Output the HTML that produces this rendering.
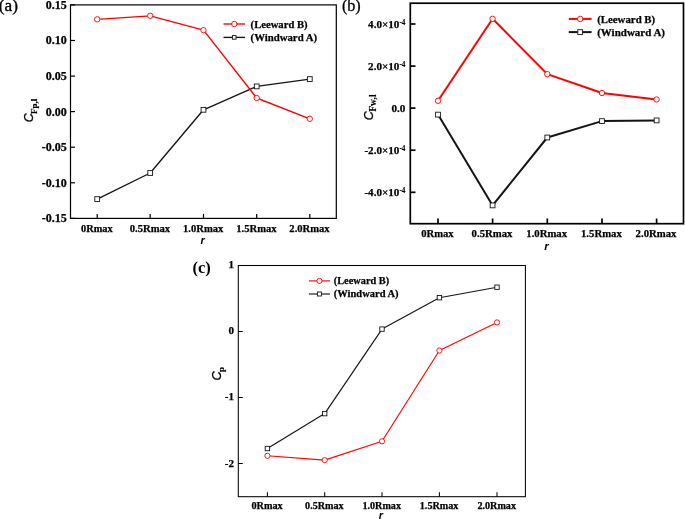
<!DOCTYPE html><html><head><meta charset="utf-8"><title>chart</title><style>html,body{margin:0;padding:0;background:#fff}svg{display:block;filter:blur(.35px)}text{font-family:"Liberation Serif",serif;fill:#000}.s{stroke:#000;stroke-width:.25px}</style></head><body>
<svg width="685" height="519" viewBox="0 0 685 519">
<rect width="685" height="519" fill="#fff"/>
<polyline points="97.2,199.1 150.2,173.0 203.5,109.8 256.7,86.4 309.8,79.1" fill="none" stroke="#141414" stroke-width="1.35" stroke-linejoin="round"/>
<polyline points="97.2,19.3 150.2,15.8 203.5,30.2 256.7,98.0 309.8,118.8" fill="none" stroke="#ff0000" stroke-width="1.35" stroke-linejoin="round"/>
<rect x="94.8" y="196.7" width="4.8" height="4.8" fill="#fff" stroke="#141414" stroke-width="0.9"/>
<rect x="147.8" y="170.6" width="4.8" height="4.8" fill="#fff" stroke="#141414" stroke-width="0.9"/>
<rect x="201.1" y="107.4" width="4.8" height="4.8" fill="#fff" stroke="#141414" stroke-width="0.9"/>
<rect x="254.3" y="84.0" width="4.8" height="4.8" fill="#fff" stroke="#141414" stroke-width="0.9"/>
<rect x="307.4" y="76.7" width="4.8" height="4.8" fill="#fff" stroke="#141414" stroke-width="0.9"/>
<circle cx="97.2" cy="19.3" r="2.7" fill="#fff" stroke="#ff0000" stroke-width="0.9"/>
<circle cx="150.2" cy="15.8" r="2.7" fill="#fff" stroke="#ff0000" stroke-width="0.9"/>
<circle cx="203.5" cy="30.2" r="2.7" fill="#fff" stroke="#ff0000" stroke-width="0.9"/>
<circle cx="256.7" cy="98.0" r="2.7" fill="#fff" stroke="#ff0000" stroke-width="0.9"/>
<circle cx="309.8" cy="118.8" r="2.7" fill="#fff" stroke="#ff0000" stroke-width="0.9"/>
<rect x="70.5" y="4.9" width="265.8" height="213.5" fill="none" stroke="#000" stroke-width="1.2"/>
<line x1="97.2" y1="218.4" x2="97.2" y2="213.9" stroke="#000" stroke-width="1.2"/>
<line x1="150.2" y1="218.4" x2="150.2" y2="213.9" stroke="#000" stroke-width="1.2"/>
<line x1="203.5" y1="218.4" x2="203.5" y2="213.9" stroke="#000" stroke-width="1.2"/>
<line x1="256.7" y1="218.4" x2="256.7" y2="213.9" stroke="#000" stroke-width="1.2"/>
<line x1="309.8" y1="218.4" x2="309.8" y2="213.9" stroke="#000" stroke-width="1.2"/>
<line x1="70.5" y1="4.9" x2="75.0" y2="4.9" stroke="#000" stroke-width="1.2"/>
<line x1="70.5" y1="40.5" x2="75.0" y2="40.5" stroke="#000" stroke-width="1.2"/>
<line x1="70.5" y1="76.1" x2="75.0" y2="76.1" stroke="#000" stroke-width="1.2"/>
<line x1="70.5" y1="111.6" x2="75.0" y2="111.6" stroke="#000" stroke-width="1.2"/>
<line x1="70.5" y1="147.2" x2="75.0" y2="147.2" stroke="#000" stroke-width="1.2"/>
<line x1="70.5" y1="182.8" x2="75.0" y2="182.8" stroke="#000" stroke-width="1.2"/>
<line x1="70.5" y1="218.4" x2="75.0" y2="218.4" stroke="#000" stroke-width="1.2"/>
<text x="66.8" y="9.3" class="s" text-anchor="end" style="font-family:'Liberation Serif',serif;font-weight:bold;font-size:12px">0.15</text>
<text x="66.8" y="44.4" class="s" text-anchor="end" style="font-family:'Liberation Serif',serif;font-weight:bold;font-size:12px">0.10</text>
<text x="66.8" y="80.0" class="s" text-anchor="end" style="font-family:'Liberation Serif',serif;font-weight:bold;font-size:12px">0.05</text>
<text x="66.8" y="115.5" class="s" text-anchor="end" style="font-family:'Liberation Serif',serif;font-weight:bold;font-size:12px">0.00</text>
<text x="66.8" y="151.1" class="s" text-anchor="end" style="font-family:'Liberation Serif',serif;font-weight:bold;font-size:12px">-0.05</text>
<text x="66.8" y="186.7" class="s" text-anchor="end" style="font-family:'Liberation Serif',serif;font-weight:bold;font-size:12px">-0.10</text>
<text x="66.8" y="222.3" class="s" text-anchor="end" style="font-family:'Liberation Serif',serif;font-weight:bold;font-size:12px">-0.15</text>
<text x="96.9" y="231.7" class="s" text-anchor="middle" style="font-family:'Liberation Serif',serif;font-weight:bold;font-size:10.7px" textLength="31.6" lengthAdjust="spacingAndGlyphs">0Rmax</text>
<text x="149.9" y="231.7" class="s" text-anchor="middle" style="font-family:'Liberation Serif',serif;font-weight:bold;font-size:10.7px" textLength="40.3" lengthAdjust="spacingAndGlyphs">0.5Rmax</text>
<text x="203.2" y="231.7" class="s" text-anchor="middle" style="font-family:'Liberation Serif',serif;font-weight:bold;font-size:10.7px" textLength="40.3" lengthAdjust="spacingAndGlyphs">1.0Rmax</text>
<text x="256.4" y="231.7" class="s" text-anchor="middle" style="font-family:'Liberation Serif',serif;font-weight:bold;font-size:10.7px" textLength="40.3" lengthAdjust="spacingAndGlyphs">1.5Rmax</text>
<text x="309.5" y="231.7" class="s" text-anchor="middle" style="font-family:'Liberation Serif',serif;font-weight:bold;font-size:10.7px" textLength="40.3" lengthAdjust="spacingAndGlyphs">2.0Rmax</text>
<line x1="223.5" y1="24.0" x2="245" y2="24.0" stroke="#ff0000" stroke-width="1.35"/>
<circle cx="234.25" cy="24.0" r="2.7" fill="#fff" stroke="#ff0000" stroke-width="0.9"/>
<line x1="223.5" y1="37.4" x2="245" y2="37.4" stroke="#141414" stroke-width="1.35"/>
<rect x="232.4" y="35.6" width="3.6" height="3.6" fill="#fff" stroke="#141414" stroke-width="0.9"/>
<text class="s" x="250.6" y="27.6" style="font-family:'Liberation Serif',serif;font-weight:bold;font-size:11px" textLength="57" lengthAdjust="spacingAndGlyphs">(Leeward B)</text>
<text class="s" x="250.6" y="41.0" style="font-family:'Liberation Serif',serif;font-weight:bold;font-size:11px" textLength="66.5" lengthAdjust="spacingAndGlyphs">(Windward A)</text>
<text transform="translate(33.1,122.3) rotate(-90)" style="font-family:'Liberation Sans',sans-serif;font-weight:normal;font-style:italic;font-size:12.5px;stroke:#000;stroke-width:.3px">C<tspan dx="-0.6" dy="3.8" style="font-family:'Liberation Serif',serif;font-weight:bold;font-style:normal;font-size:9px;stroke-width:.15px">Fp,l</tspan></text>
<text x="202.7" y="243.8" text-anchor="middle" style="font-family:'Liberation Sans',sans-serif;font-weight:bold;font-style:italic;font-size:11px">r</text>
<text x="-1.2" y="10.9" style="font-family:'Liberation Serif',serif;font-size:17.3px;stroke:#000;stroke-width:.35px">(a)</text>
<polyline points="438.0,114.6 492.6,205.4 547.3,137.5 602.0,121.1 656.6,120.4" fill="none" stroke="#141414" stroke-width="2.0" stroke-linejoin="round"/>
<polyline points="438.0,100.8 492.6,18.8 547.3,74.1 602.0,93.0 656.6,99.5" fill="none" stroke="#ff0000" stroke-width="2.0" stroke-linejoin="round"/>
<rect x="435.6" y="112.2" width="4.8" height="4.8" fill="#fff" stroke="#141414" stroke-width="0.9"/>
<rect x="490.2" y="203.0" width="4.8" height="4.8" fill="#fff" stroke="#141414" stroke-width="0.9"/>
<rect x="544.9" y="135.1" width="4.8" height="4.8" fill="#fff" stroke="#141414" stroke-width="0.9"/>
<rect x="599.6" y="118.7" width="4.8" height="4.8" fill="#fff" stroke="#141414" stroke-width="0.9"/>
<rect x="654.2" y="118.0" width="4.8" height="4.8" fill="#fff" stroke="#141414" stroke-width="0.9"/>
<circle cx="438.0" cy="100.8" r="2.7" fill="#fff" stroke="#ff0000" stroke-width="0.9"/>
<circle cx="492.6" cy="18.8" r="2.7" fill="#fff" stroke="#ff0000" stroke-width="0.9"/>
<circle cx="547.3" cy="74.1" r="2.7" fill="#fff" stroke="#ff0000" stroke-width="0.9"/>
<circle cx="602.0" cy="93.0" r="2.7" fill="#fff" stroke="#ff0000" stroke-width="0.9"/>
<circle cx="656.6" cy="99.5" r="2.7" fill="#fff" stroke="#ff0000" stroke-width="0.9"/>
<rect x="410.3" y="3.2" width="273.2" height="220.5" fill="none" stroke="#000" stroke-width="1.7"/>
<line x1="438" y1="223.7" x2="438" y2="218.5" stroke="#000" stroke-width="1.7"/>
<line x1="492.6" y1="223.7" x2="492.6" y2="218.5" stroke="#000" stroke-width="1.7"/>
<line x1="547.3" y1="223.7" x2="547.3" y2="218.5" stroke="#000" stroke-width="1.7"/>
<line x1="602" y1="223.7" x2="602" y2="218.5" stroke="#000" stroke-width="1.7"/>
<line x1="656.6" y1="223.7" x2="656.6" y2="218.5" stroke="#000" stroke-width="1.7"/>
<line x1="410.3" y1="24.0" x2="415.5" y2="24.0" stroke="#000" stroke-width="1.7"/>
<line x1="410.3" y1="66.1" x2="415.5" y2="66.1" stroke="#000" stroke-width="1.7"/>
<line x1="410.3" y1="108.1" x2="415.5" y2="108.1" stroke="#000" stroke-width="1.7"/>
<line x1="410.3" y1="150.2" x2="415.5" y2="150.2" stroke="#000" stroke-width="1.7"/>
<line x1="410.3" y1="192.3" x2="415.5" y2="192.3" stroke="#000" stroke-width="1.7"/>
<text x="405.4" y="28.1" class="s" text-anchor="end" style="font-family:'Liberation Serif',serif;font-weight:bold;font-size:11.1px">4.0×10<tspan dy="-3.6" style="font-size:7.2px;stroke-width:.1px">-4</tspan></text>
<text x="405.4" y="70.2" class="s" text-anchor="end" style="font-family:'Liberation Serif',serif;font-weight:bold;font-size:11.1px">2.0×10<tspan dy="-3.6" style="font-size:7.2px;stroke-width:.1px">-4</tspan></text>
<text x="405.4" y="112.2" class="s" text-anchor="end" style="font-family:'Liberation Serif',serif;font-weight:bold;font-size:11.1px">0.0</text>
<text x="405.4" y="154.3" class="s" text-anchor="end" style="font-family:'Liberation Serif',serif;font-weight:bold;font-size:11.1px">-2.0×10<tspan dy="-3.6" style="font-size:7.2px;stroke-width:.1px">-4</tspan></text>
<text x="405.4" y="196.4" class="s" text-anchor="end" style="font-family:'Liberation Serif',serif;font-weight:bold;font-size:11.1px">-4.0×10<tspan dy="-3.6" style="font-size:7.2px;stroke-width:.1px">-4</tspan></text>
<text x="437.4" y="236.8" class="s" text-anchor="middle" style="font-family:'Liberation Serif',serif;font-weight:bold;font-size:11px" textLength="32.4" lengthAdjust="spacingAndGlyphs">0Rmax</text>
<text x="492.0" y="236.8" class="s" text-anchor="middle" style="font-family:'Liberation Serif',serif;font-weight:bold;font-size:11px" textLength="40.8" lengthAdjust="spacingAndGlyphs">0.5Rmax</text>
<text x="546.7" y="236.8" class="s" text-anchor="middle" style="font-family:'Liberation Serif',serif;font-weight:bold;font-size:11px" textLength="40.8" lengthAdjust="spacingAndGlyphs">1.0Rmax</text>
<text x="601.4" y="236.8" class="s" text-anchor="middle" style="font-family:'Liberation Serif',serif;font-weight:bold;font-size:11px" textLength="40.8" lengthAdjust="spacingAndGlyphs">1.5Rmax</text>
<text x="656.0" y="236.8" class="s" text-anchor="middle" style="font-family:'Liberation Serif',serif;font-weight:bold;font-size:11px" textLength="40.8" lengthAdjust="spacingAndGlyphs">2.0Rmax</text>
<line x1="568.8" y1="18.9" x2="591.6" y2="18.9" stroke="#ff0000" stroke-width="2.0"/>
<circle cx="580.2" cy="18.9" r="2.7" fill="#fff" stroke="#ff0000" stroke-width="0.9"/>
<line x1="568.8" y1="32.1" x2="591.6" y2="32.1" stroke="#141414" stroke-width="2.0"/>
<rect x="577.8" y="29.7" width="4.8" height="4.8" fill="#fff" stroke="#141414" stroke-width="0.9"/>
<text class="s" x="597.2" y="22.7" style="font-family:'Liberation Serif',serif;font-weight:bold;font-size:11.2px" textLength="58" lengthAdjust="spacingAndGlyphs">(Leeward B)</text>
<text class="s" x="597.2" y="35.9" style="font-family:'Liberation Serif',serif;font-weight:bold;font-size:11.2px" textLength="67.8" lengthAdjust="spacingAndGlyphs">(Windward A)</text>
<text transform="translate(372.5,120.2) rotate(-90)" style="font-family:'Liberation Sans',sans-serif;font-weight:normal;font-style:italic;font-size:12.5px;stroke:#000;stroke-width:.3px">C<tspan dx="-0.6" dy="3.5" style="font-family:'Liberation Serif',serif;font-weight:bold;font-style:normal;font-size:9.6px;stroke-width:.15px">Fw,l</tspan></text>
<text x="546.6" y="249.6" text-anchor="middle" style="font-family:'Liberation Sans',sans-serif;font-weight:bold;font-style:italic;font-size:11.5px">r</text>
<text x="341.9" y="11.4" style="font-family:'Liberation Serif',serif;font-size:16.2px;stroke:#000;stroke-width:.3px">(b)</text>
<polyline points="267.4,448.5 324.7,413.6 382.0,329.1 439.4,297.7 497.0,287.2" fill="none" stroke="#141414" stroke-width="1.15" stroke-linejoin="round"/>
<polyline points="267.4,455.8 324.7,460.1 382.0,441.3 439.4,350.5 497.0,322.4" fill="none" stroke="#ff0000" stroke-width="1.15" stroke-linejoin="round"/>
<rect x="265.2" y="446.3" width="4.4" height="4.4" fill="#fff" stroke="#141414" stroke-width="0.9"/>
<rect x="322.5" y="411.4" width="4.4" height="4.4" fill="#fff" stroke="#141414" stroke-width="0.9"/>
<rect x="379.8" y="326.9" width="4.4" height="4.4" fill="#fff" stroke="#141414" stroke-width="0.9"/>
<rect x="437.2" y="295.5" width="4.4" height="4.4" fill="#fff" stroke="#141414" stroke-width="0.9"/>
<rect x="494.8" y="285.0" width="4.4" height="4.4" fill="#fff" stroke="#141414" stroke-width="0.9"/>
<circle cx="267.4" cy="455.8" r="2.6" fill="#fff" stroke="#ff0000" stroke-width="0.9"/>
<circle cx="324.7" cy="460.1" r="2.6" fill="#fff" stroke="#ff0000" stroke-width="0.9"/>
<circle cx="382.0" cy="441.3" r="2.6" fill="#fff" stroke="#ff0000" stroke-width="0.9"/>
<circle cx="439.4" cy="350.5" r="2.6" fill="#fff" stroke="#ff0000" stroke-width="0.9"/>
<circle cx="497.0" cy="322.4" r="2.6" fill="#fff" stroke="#ff0000" stroke-width="0.9"/>
<rect x="238.3" y="265.5" width="287.09999999999997" height="231.2" fill="none" stroke="#000" stroke-width="1.05"/>
<line x1="267.4" y1="496.7" x2="267.4" y2="492.2" stroke="#000" stroke-width="1.05"/>
<line x1="324.7" y1="496.7" x2="324.7" y2="492.2" stroke="#000" stroke-width="1.05"/>
<line x1="382" y1="496.7" x2="382" y2="492.2" stroke="#000" stroke-width="1.05"/>
<line x1="439.4" y1="496.7" x2="439.4" y2="492.2" stroke="#000" stroke-width="1.05"/>
<line x1="497" y1="496.7" x2="497" y2="492.2" stroke="#000" stroke-width="1.05"/>
<line x1="238.3" y1="265.5" x2="242.8" y2="265.5" stroke="#000" stroke-width="1.05"/>
<line x1="238.3" y1="331.5" x2="242.8" y2="331.5" stroke="#000" stroke-width="1.05"/>
<line x1="238.3" y1="397.5" x2="242.8" y2="397.5" stroke="#000" stroke-width="1.05"/>
<line x1="238.3" y1="463.5" x2="242.8" y2="463.5" stroke="#000" stroke-width="1.05"/>
<text x="234" y="268.1" class="s" text-anchor="end" style="font-family:'Liberation Serif',serif;font-weight:bold;font-size:11px">1</text>
<text x="234" y="334.1" class="s" text-anchor="end" style="font-family:'Liberation Serif',serif;font-weight:bold;font-size:11px">0</text>
<text x="234" y="400.1" class="s" text-anchor="end" style="font-family:'Liberation Serif',serif;font-weight:bold;font-size:11px">-1</text>
<text x="234" y="466.6" class="s" text-anchor="end" style="font-family:'Liberation Serif',serif;font-weight:bold;font-size:11px">-2</text>
<text x="267.1" y="508.7" class="s" text-anchor="middle" style="font-family:'Liberation Serif',serif;font-weight:bold;font-size:10.5px" textLength="31.3" lengthAdjust="spacingAndGlyphs">0Rmax</text>
<text x="324.4" y="508.7" class="s" text-anchor="middle" style="font-family:'Liberation Serif',serif;font-weight:bold;font-size:10.5px" textLength="38.6" lengthAdjust="spacingAndGlyphs">0.5Rmax</text>
<text x="381.7" y="508.7" class="s" text-anchor="middle" style="font-family:'Liberation Serif',serif;font-weight:bold;font-size:10.5px" textLength="38.6" lengthAdjust="spacingAndGlyphs">1.0Rmax</text>
<text x="439.1" y="508.7" class="s" text-anchor="middle" style="font-family:'Liberation Serif',serif;font-weight:bold;font-size:10.5px" textLength="38.6" lengthAdjust="spacingAndGlyphs">1.5Rmax</text>
<text x="496.7" y="508.7" class="s" text-anchor="middle" style="font-family:'Liberation Serif',serif;font-weight:bold;font-size:10.5px" textLength="38.6" lengthAdjust="spacingAndGlyphs">2.0Rmax</text>
<line x1="308.9" y1="280.9" x2="330" y2="280.9" stroke="#ff0000" stroke-width="1.15"/>
<circle cx="319.45" cy="280.9" r="2.6" fill="#fff" stroke="#ff0000" stroke-width="0.9"/>
<line x1="308.9" y1="294" x2="330" y2="294" stroke="#141414" stroke-width="1.15"/>
<rect x="317.4" y="292.0" width="4.0" height="4.0" fill="#fff" stroke="#141414" stroke-width="0.9"/>
<text class="s" x="333.8" y="283.7" style="font-family:'Liberation Serif',serif;font-weight:bold;font-size:11px" textLength="55.3" lengthAdjust="spacingAndGlyphs">(Leeward B)</text>
<text class="s" x="333.8" y="296.8" style="font-family:'Liberation Serif',serif;font-weight:bold;font-size:11px" textLength="64.8" lengthAdjust="spacingAndGlyphs">(Windward A)</text>
<text transform="translate(220.7,380.6) rotate(-90)" style="font-family:'Liberation Sans',sans-serif;font-weight:normal;font-style:italic;font-size:12.7px;stroke:#000;stroke-width:.3px">C<tspan dx="-0.6" dy="3.6" style="font-family:'Liberation Serif',serif;font-weight:bold;font-style:normal;font-size:9px;stroke-width:.15px">p</tspan></text>
<text x="381" y="518.7" text-anchor="middle" style="font-family:'Liberation Sans',sans-serif;font-weight:bold;font-style:italic;font-size:11px">r</text>
<text x="192.5" y="272.7" style="font-family:'Liberation Serif',serif;font-weight:bold;font-size:16.5px">(c)</text>
</svg></body></html>
